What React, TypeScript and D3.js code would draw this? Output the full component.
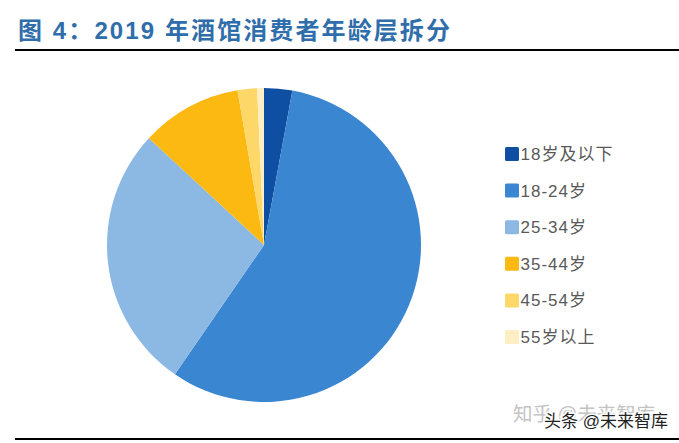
import React from 'react'
import * as d3 from 'd3'

const ageGroups = ['18岁及以下', '18-24岁', '25-34岁', '35-44岁', '45-54岁', '55岁以上']
const shares = [2.9, 56.7, 27.3, 10.4, 2.0, 0.7]
const sliceColors = ['#0f4fa3', '#3a86d0', '#8cb8e4', '#fbb911', '#fdd767', '#feeec4']

const width = 679
const height = 443
const cx = 264
const cy = 245
const radius = 157

const cjkFont = '"Liberation Sans", "Noto Sans CJK SC", sans-serif'

export default function App() {
	const pie = d3.pie<number>().sort(null).value(d => d)
	const arc = d3.arc<d3.PieArcDatum<number>>().innerRadius(0).outerRadius(radius)
	const color = d3.scaleOrdinal<string, string>().domain(ageGroups).range(sliceColors)
	const legendY = d3.scalePoint<string>().domain(ageGroups).range([154, 337])

	return (
		<svg width={width} height={height} style={{ position: 'absolute', left: 0, top: 0, background: '#fff' }}>
			<text x={18} y={38.5} fontFamily={cjkFont} fontSize={24} fontWeight={700} fill="#2f6eaa" letterSpacing={2.1}>
				图 4：2019 年酒馆消费者年龄层拆分
			</text>
			<line x1={15} x2={679} y1={50} y2={50} stroke="#000" strokeWidth={2} />

			<g transform={`translate(${cx},${cy})`}>
				{pie(shares).map((d, i) => (
					<path key={ageGroups[i]} d={arc(d) as string} fill={color(ageGroups[i])} />
				))}
			</g>

			{ageGroups.map(g => (
				<g key={g} transform={`translate(505,${legendY(g)})`}>
					<rect x={0} y={-7} width={14} height={14} rx={1.5} fill={color(g)} />
					<text x={15.5} y={6} fontFamily={cjkFont} fontSize={17} fill="#595959" letterSpacing={1}>{g}</text>
				</g>
			))}

			{/* the two watermarks sit on top of each other in the source image */}
			<text x={513} y={421} fontFamily={cjkFont} fontSize={19.5} fill="#c4c4c4">知乎 @未来智库</text>
			<text x={544} y={427} fontFamily={cjkFont} fontSize={17} fill="#222" stroke="#fff" strokeWidth={3} paintOrder="stroke">头条 @未来智库</text>
			<line x1={15} x2={679} y1={439} y2={439} stroke="#000" strokeWidth={2} />
		</svg>
	)
}
